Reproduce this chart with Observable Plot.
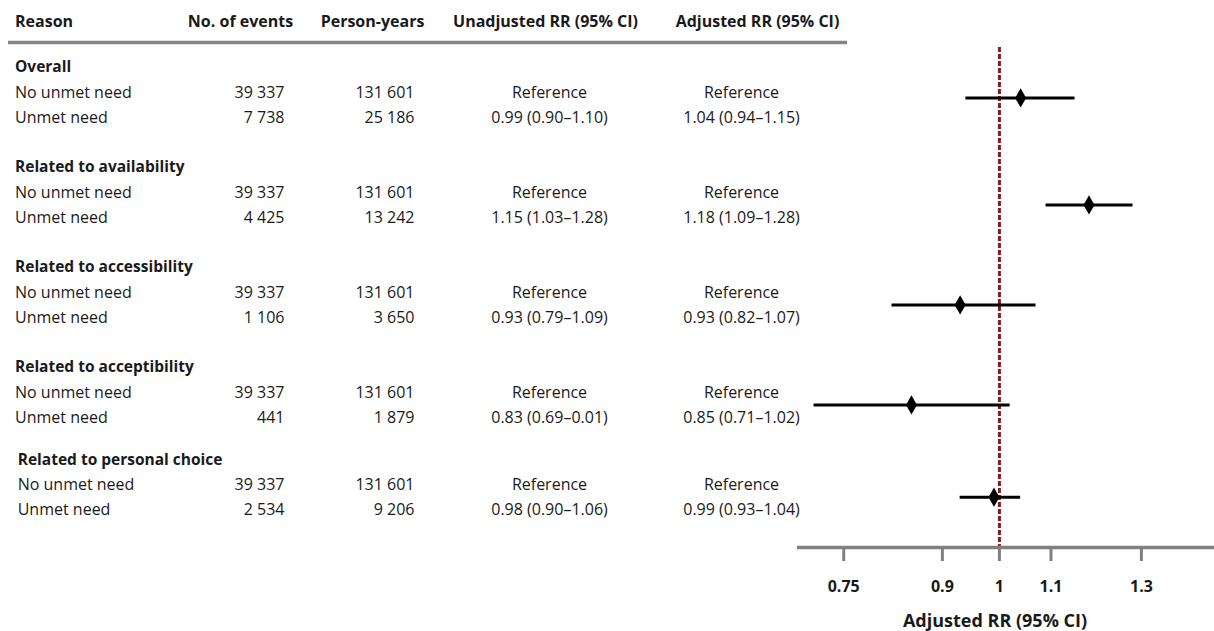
<!DOCTYPE html>
<html><head><meta charset="utf-8">
<script src="https://cdn.jsdelivr.net/npm/d3@7"></script>
<script src="https://cdn.jsdelivr.net/npm/@observablehq/plot@0.6"></script>
<style>
body{margin:0;background:#fff;}
#chart{position:relative;width:1214px;height:631px;}
#chart svg{position:absolute;left:0;top:0;}
</style></head><body><div id="chart"></div>
<script>
// ---- data ----
const groups = ["Overall","Related to availability","Related to accessibility","Related to acceptibility","Related to personal choice"];
const levels = ["No unmet need","Unmet need"];
const eventsNoUnmet = [39337,39337,39337,39337,39337];
const eventsUnmet = [7738,4425,1106,441,2534];
const pyNoUnmet = [131601,131601,131601,131601,131601];
const pyUnmet = [25186,13242,3650,1879,9206];
const unadjRR = [0.99,1.15,0.93,0.83,0.98];
const unadjLo = [0.90,1.03,0.79,0.69,0.90];
const unadjHi = [1.10,1.28,1.09,0.01,1.06];
const adjRR = [1.04,1.18,0.93,0.85,0.99];
const adjLo = [0.94,1.09,0.82,0.71,0.93];
const adjHi = [1.15,1.28,1.07,1.02,1.04];
const headers = ["Reason","No. of events","Person-years","Unadjusted RR (95% CI)","Adjusted RR (95% CI)"];
const xTicks = [0.75,0.9,1,1.1,1.3];
const referenceLabel = "Reference";
const axisTitle = "Adjusted RR (95% CI)";

// ---- layout ----
const W = 1214, H = 631;
const rowStep = 25, row0 = 66.9;
const frameTop = 47, frameBottom = 547;
const yDomain = [(frameTop - row0) / rowStep, (frameBottom - row0) / rowStep];
const groupShift = i => (i === 4 ? -0.31 : 0);
const forestShift = i => (i === 0 ? -0.28 : 0);
const rowOf = (i, k) => 4 * i + k + groupShift(i);
const headerRow = (21.2 - row0) / rowStep;
const headerRuleRow = (42 - row0) / rowStep;
const col = {label: 14.5, events: 284, py: 414, unadj: 549, adj: 741};
const headCenters = [240, 372, 545, 757];
const FONT = "'Open Sans', sans-serif";
const INK = "#1a1a1a";

const fmtInt = d3.formatLocale({decimal: ".", thousands: " ", grouping: [3], currency: ["", ""]}).format(",d");
const fmtRR = (m, l, h) => `${m.toFixed(2)} (${l.toFixed(2)}–${h.toFixed(2)})`;

const titleRows = groups.map((g, i) => ({label: g, row: rowOf(i, 0), i}));
const dataRows = groups.flatMap((g, i) => [
  {label: levels[0], row: rowOf(i, 1), i, ev: fmtInt(eventsNoUnmet[i]), py: fmtInt(pyNoUnmet[i]), un: referenceLabel, ad: referenceLabel},
  {label: levels[1], row: rowOf(i, 2), i, ev: fmtInt(eventsUnmet[i]), py: fmtInt(pyUnmet[i]), un: fmtRR(unadjRR[i], unadjLo[i], unadjHi[i]), ad: fmtRR(adjRR[i], adjLo[i], adjHi[i])}
]);
const forestData = groups.map((g, i) => ({g, rr: adjRR[i], lo: adjLo[i], hi: adjHi[i], row: rowOf(i, 1.5) + forestShift(i)}));

const common = {
  width: W, height: H, marginTop: frameTop, marginBottom: H - frameBottom,
  style: {background: "none", fontFamily: FONT, overflow: "visible", color: INK}
};
const yScale = {type: "linear", domain: yDomain, reverse: true, axis: null};

const table = Plot.plot({
  ...common, marginLeft: 0, marginRight: 0,
  x: {type: "linear", domain: [0, W], axis: null},
  y: yScale,
  marks: [
    Plot.ruleY([headerRuleRow], {x1: 8, x2: 847, stroke: "#858585", strokeWidth: 3.5}),
    Plot.text(headers.slice(0, 1), {x: col.label, y: headerRow, textAnchor: "start", fontWeight: "bold", fontSize: 16, fill: INK}),
    Plot.text(headers.slice(1), {x: (d, j) => headCenters[j], y: headerRow, textAnchor: "middle", fontWeight: "bold", fontSize: 16, fill: INK}),
    Plot.text(titleRows, {x: d => col.label + (d.i === 4 ? 2.7 : 0), y: "row", text: "label", textAnchor: "start", fontWeight: "bold", fontSize: 15.5, fill: INK}),
    Plot.text(dataRows, {x: d => col.label + (d.i === 4 ? 2.7 : 0), y: "row", text: "label", textAnchor: "start", fontSize: 16, fill: INK}),
    Plot.text(dataRows, {x: col.events, y: "row", text: "ev", textAnchor: "end", fontSize: 16, fill: INK}),
    Plot.text(dataRows, {x: col.py, y: "row", text: "py", textAnchor: "end", fontSize: 16, fill: INK}),
    Plot.text(dataRows, {x: col.unadj, y: "row", text: "un", textAnchor: "middle", fontSize: 16, fill: INK}),
    Plot.text(dataRows, {x: col.adj, y: "row", text: "ad", textAnchor: "middle", fontSize: 16, fill: INK})
  ]
});

const forest = Plot.plot({
  ...common, marginLeft: 797, marginRight: 0,
  x: {type: "log", domain: [0.6886, 1.488]},
  y: yScale,
  marks: [
    Plot.ruleX([1], {stroke: "#8b1a1f", strokeWidth: 3, strokeDasharray: "5,2"}),
    Plot.ruleY(forestData, {x1: "lo", x2: "hi", y: "row", stroke: "#000", strokeWidth: 3}),
    Plot.dot(forestData, {x: "rr", y: "row", symbol: "diamond", r: 5.8, fill: "#000", stroke: null}),
    Plot.ruleY([yDomain[1]], {stroke: "#808080", strokeWidth: 3.5}),
    Plot.axisX({ticks: xTicks, tickFormat: d => String(d), tickSize: 14, tickPadding: 19, stroke: "#808080", strokeWidth: 3, fill: INK, fontSize: 16, fontWeight: "bold", label: null}),
    Plot.text([axisTitle], {frameAnchor: "bottom", dx: -11, dy: 66.5, lineAnchor: "top", fontWeight: "bold", fontSize: 18, fill: INK})
  ]
});

const chart = document.getElementById("chart");
chart.appendChild(table);
chart.appendChild(forest);
</script></body></html>
